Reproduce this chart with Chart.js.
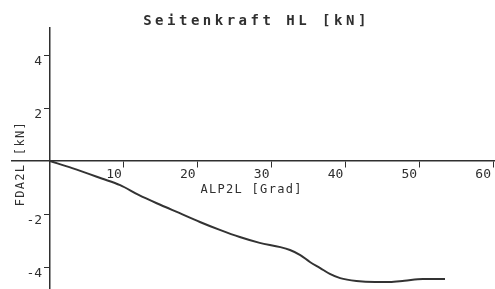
<!DOCTYPE html>
<html>
<head>
<meta charset="utf-8">
<script src="https://cdn.jsdelivr.net/npm/chart.js@4/dist/chart.umd.min.js"></script>
<style>
  html, body { margin: 0; padding: 0; background: #fff; }
  #wrap { width: 495px; height: 289px; position: relative; }
</style>
</head>
<body>
<div id="wrap"><canvas id="c" width="495" height="289"></canvas></div>
<script>
const chartTitle = 'Seitenkraft HL [kN]';
const xTitle = 'ALP2L [Grad]';
const yTitle = 'FDA2L [kN]';
const xTicks = [10, 20, 30, 40, 50, 60];
const yTicks = [4, 2, -2, -4];
const alpha = [0, 3, 7, 9.5, 12, 15, 17.5, 20.3, 23, 25.7, 28.4, 31.2, 32.5, 33.9, 35.2, 36.6, 37.9, 39.3, 41.5, 44, 46, 48, 50.5, 53.5];
const force = [0, -0.27, -0.66, -0.91, -1.28, -1.66, -1.96, -2.30, -2.60, -2.87, -3.09, -3.25, -3.36, -3.55, -3.81, -4.04, -4.26, -4.42, -4.53, -4.57, -4.57, -4.52, -4.45, -4.45];

const ink = '#2f2f2f';
const tickFont = { family: 'DejaVu Sans Mono', size: 13 };

const axisTitles = {
  id: 'axisTitles',
  beforeDraw(chart) {
    const tb = chart.titleBlock;
    if (tb && !tb._spaced) {
      const orig = tb.draw.bind(tb);
      tb.draw = function (area) {
        const c = this.ctx;
        c.save();
        c.letterSpacing = '3.5px';
        c.translate(3, 0);
        orig(area);
        c.restore();
      };
      tb._spaced = true;
    }
  },
  afterDraw(chart) {
    const ctx = chart.ctx;
    const xs = chart.scales.x, ys = chart.scales.y;
    ctx.save();
    ctx.fillStyle = ink;
    ctx.font = '12px "DejaVu Sans Mono"';
    ctx.letterSpacing = '1.3px';
    ctx.textAlign = 'center';
    ctx.textBaseline = 'middle';
    ctx.fillText(xTitle, xs.getPixelForValue(27.3), ys.getPixelForValue(0) + 29);
    ctx.translate(xs.getPixelForValue(-3.9), ys.getPixelForValue(-0.1));
    ctx.rotate(-Math.PI / 2);
    ctx.fillText(yTitle, 0, 0);
    ctx.restore();
  }
};

new Chart(document.getElementById('c'), {
  type: 'line',
  data: {
    datasets: [{
      data: alpha.map((a, i) => ({ x: a, y: force[i] })),
      borderColor: '#333',
      borderWidth: 2,
      pointRadius: 0,
      cubicInterpolationMode: 'monotone',
      fill: false
    }]
  },
  options: {
    responsive: false,
    animation: false,
    layout: { padding: { left: 12, right: 0, top: 0, bottom: 0 } },
    plugins: {
      legend: { display: false },
      tooltip: { enabled: false },
      title: {
        display: true,
        text: chartTitle,
        color: ink,
        font: { family: 'DejaVu Sans Mono', size: 14, lineHeight: 1 },
        padding: { top: 14, bottom: 0 }
      }
    },
    scales: {
      x: {
        type: 'linear',
        min: -5.15,
        max: 60.27,
        position: { y: 0 },
        afterBuildTicks: s => { s.ticks = xTicks.map(v => ({ value: v })); },
        afterFit: s => { s.height = 0; s.paddingLeft = 0; s.paddingRight = 0; s.paddingTop = 0; s.paddingBottom = 0; },
        grid: { drawOnChartArea: false, drawTicks: true, tickLength: 6, tickColor: ink, tickWidth: 1 },
        border: { display: true, color: ink, width: 1.5 },
        ticks: { color: ink, font: tickFont, align: 'end', padding: 0, labelOffset: -2, maxRotation: 0, autoSkip: false }
      },
      y: {
        type: 'linear',
        min: -4.83,
        max: 5.02,
        position: { x: 0 },
        afterBuildTicks: s => { s.ticks = yTicks.map(v => ({ value: v })); },
        afterFit: s => { s.width = 0; s.paddingLeft = 0; s.paddingRight = 0; s.paddingTop = 0; s.paddingBottom = 0; },
        grid: { drawOnChartArea: false, drawTicks: true, tickLength: 5, tickColor: ink, tickWidth: 1 },
        border: { display: true, color: ink, width: 1.5 },
        ticks: { color: ink, font: tickFont, align: 'start', padding: 0, autoSkip: false,
                 callback: v => (v < 0 ? '-' : '') + Math.abs(v) + ' ' }
      }
    }
  },
  plugins: [axisTitles]
});
</script>
</body>
</html>
